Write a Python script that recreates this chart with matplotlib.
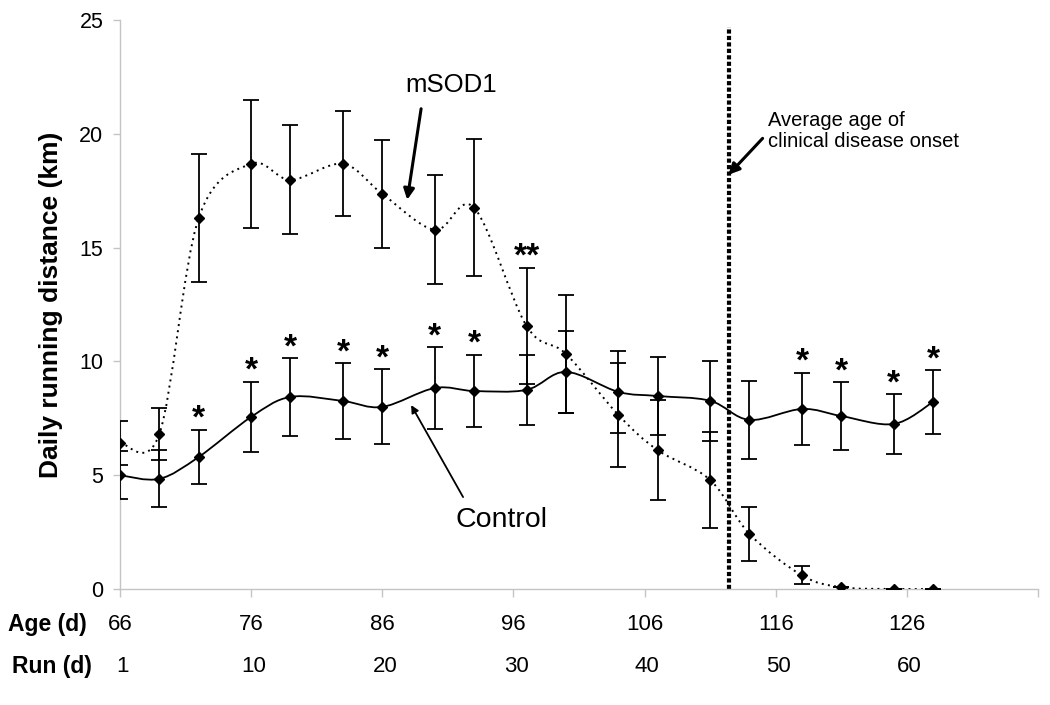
import matplotlib
matplotlib.use("Agg")
import matplotlib.pyplot as plt
import matplotlib.transforms as mtransforms
from matplotlib.path import Path
from matplotlib.patches import PathPatch

plt.rcParams['font.family'] = ['Liberation Sans', 'DejaVu Sans']

# ages (days) of each measurement
age = [66, 69, 72, 76, 79, 83, 86, 90, 93, 97, 100, 104, 107, 111, 114, 118, 121, 125, 128]

control = [5.0, 4.84, 5.8, 7.56, 8.44, 8.26, 8.0, 8.83, 8.7, 8.75, 9.54, 8.66, 8.48, 8.27,
           7.43, 7.91, 7.6, 7.25, 8.22]
control_err = [1.05, 1.25, 1.2, 1.55, 1.7, 1.66, 1.65, 1.8, 1.6, 1.53, 1.8, 1.8, 1.73, 1.75,
               1.72, 1.6, 1.5, 1.3, 1.4]

msod1 = [6.42, 6.81, 16.3, 18.68, 17.98, 18.68, 17.36, 15.78, 16.75, 11.56, 10.33, 7.65, 6.1,
         4.79, 2.42, 0.6, 0.08, 0.0, 0.0]
msod1_err = [0.95, 1.15, 2.8, 2.8, 2.4, 2.3, 2.37, 2.4, 3.0, 2.55, 2.6, 2.28, 2.2, 2.1,
             1.17, 0.4, 0.0, 0.0, 0.0]

# significance marks on control series, and "**" on mSOD1
star_ages = [72, 76, 79, 83, 86, 90, 93, 118, 121, 125, 128]
double_star_age = 97

age_ticks = [66, 76, 86, 96, 106, 116, 126]
run_labels = ["1", "10", "20", "30", "40", "50", "60"]

onset_age = 112.4


def smooth_path(xs, ys):
    # Excel-like smoothed line: cubic bezier through the points
    verts = [(xs[0], ys[0])]
    codes = [Path.MOVETO]
    n = len(xs)
    for i in range(n - 1):
        xp, yp = (xs[i - 1], ys[i - 1]) if i > 0 else (xs[i], ys[i])
        xn, yn = (xs[i + 2], ys[i + 2]) if i + 2 < n else (xs[i + 1], ys[i + 1])
        c1 = (xs[i] + (xs[i + 1] - xp) / 6, ys[i] + (ys[i + 1] - yp) / 6)
        c2 = (xs[i + 1] - (xn - xs[i]) / 6, ys[i + 1] - (yn - ys[i]) / 6)
        verts += [c1, c2, (xs[i + 1], ys[i + 1])]
        codes += [Path.CURVE4] * 3
    return Path(verts, codes)


fig = plt.figure(figsize=(10.5, 7.05), dpi=100)
ax = fig.add_axes([120 / 1050, 1 - 589 / 705, 918 / 1050, 569 / 705])

grey = '#c4c4c4'

ax.add_patch(PathPatch(smooth_path(age, control), fill=False, color='black', lw=1.3, zorder=3))
ax.add_patch(PathPatch(smooth_path(age, msod1), fill=False, color='black', lw=1.4,
                       linestyle=(0, (1, 2.2)), zorder=3))

ax.errorbar(age, control, yerr=control_err, fmt='D', color='black', ms=5.5,
            ecolor='black', elinewidth=1.3, capsize=6, capthick=1.3, zorder=4)
ax.errorbar(age, msod1, yerr=[msod1_err, msod1_err], fmt='D', color='black', ms=5.5,
            ecolor='black', elinewidth=1.3, capsize=6, capthick=1.3, zorder=4)

# stars
for a in star_ages:
    i = age.index(a)
    ax.text(a, control[i] + control_err[i] + 0.08, '*', ha='center', va='baseline',
            fontsize=24, fontweight='bold')
i = age.index(double_star_age)
ax.text(double_star_age, msod1[i] + msod1_err[i] + 0.08, '**', ha='center', va='baseline',
        fontsize=24, fontweight='bold')

# onset line
ax.plot([onset_age, onset_age], [0, 24.7], color='black', lw=3,
        linestyle=(0, (1, 0.55)), solid_capstyle='butt', dash_capstyle='butt', zorder=2)

ax.annotate('', xy=(onset_age, 18.2), xytext=(115.0, 19.8),
            arrowprops=dict(arrowstyle='-|>', color='black', lw=2.2, mutation_scale=16,
                            shrinkA=0, shrinkB=0))
ax.text(115.4, 21.0, 'Average age of\nclinical disease onset', ha='left', va='top',
        fontsize=14.5, linespacing=1.15)

ax.text(91.25, 22.15, 'mSOD1', ha='center', va='center', fontsize=18.5)
ax.annotate('', xy=(87.9, 17.1), xytext=(88.96, 21.1),
            arrowprops=dict(arrowstyle='-|>', color='black', lw=2.2, mutation_scale=16,
                            shrinkA=0, shrinkB=0))

ax.text(95.06, 3.03, 'Control', ha='center', va='center', fontsize=20.5)
ax.annotate('', xy=(88.2, 8.08), xytext=(92.16, 4.04),
            arrowprops=dict(arrowstyle='-|>', color='black', lw=1.3, mutation_scale=11,
                            shrinkA=0, shrinkB=0))

ax.set_xlim(66, 136)
ax.set_ylim(0, 25)
ax.set_yticks([0, 5, 10, 15, 20, 25])
ax.set_xticks(list(range(66, 137, 10)))
ax.set_xticklabels([])
ax.tick_params(axis='y', labelsize=15.5, length=5, width=1, color=grey, pad=7)
ax.tick_params(axis='x', length=6, width=1, color=grey)
for s in ['top', 'right']:
    ax.spines[s].set_visible(False)
for s in ['left', 'bottom']:
    ax.spines[s].set_color(grey)
    ax.spines[s].set_linewidth(1)

ax.set_ylabel('Daily running distance (km)', fontsize=19, fontweight='bold', labelpad=12)

# age / run rows under the axis
trans = mtransforms.blended_transform_factory(ax.transData, ax.transAxes)
for a, r in zip(age_ticks, run_labels):
    ax.text(a, -35 / 569, str(a), transform=trans, ha='center', va='center', fontsize=16)
    ax.text(a + 0.2, -78 / 569, r, transform=trans, ha='center', va='center', fontsize=16)
fig.text(8 / 1050, 1 - 624 / 705, 'Age (d)', ha='left', va='center', fontsize=16.5,
         fontweight='bold')
fig.text(12 / 1050, 1 - 667 / 705, 'Run (d)', ha='left', va='center', fontsize=16.5,
         fontweight='bold')

fig.savefig('out.png', dpi=100)
